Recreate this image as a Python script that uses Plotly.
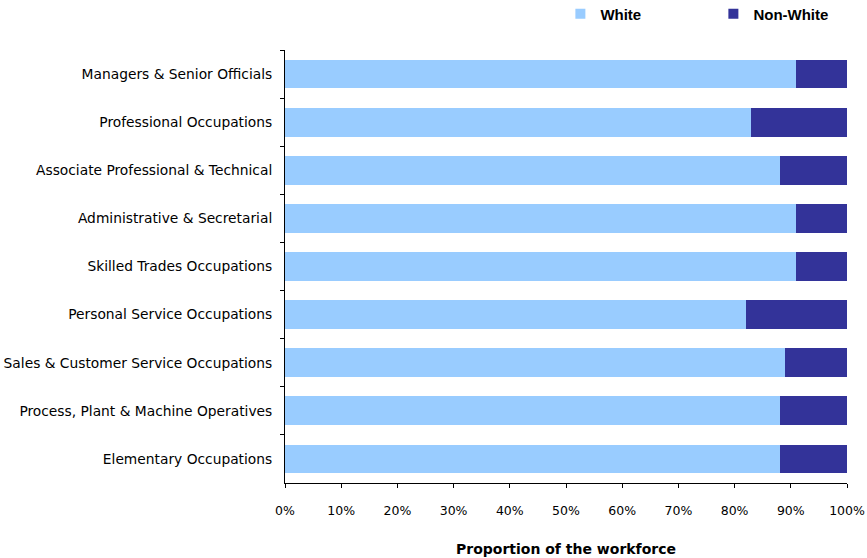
import plotly.graph_objects as go

categories = [
    "Managers & Senior Officials",
    "Professional Occupations",
    "Associate Professional & Technical",
    "Administrative & Secretarial",
    "Skilled Trades Occupations",
    "Personal Service Occupations",
    "Sales & Customer Service Occupations",
    "Process, Plant & Machine Operatives",
    "Elementary Occupations",
]
white = [91, 83, 88, 91, 91, 82, 89, 88, 88]
non_white = [9, 17, 12, 9, 9, 18, 11, 12, 12]
x_ticks = [0, 10, 20, 30, 40, 50, 60, 70, 80, 90, 100]
x_tick_labels = [f"{v}%" for v in x_ticks]

C_WHITE = "#99CCFF"
C_NON = "#333399"

fig = go.Figure()
fig.add_trace(go.Bar(y=categories, x=white, name="White", orientation="h",
                     marker=dict(color=C_WHITE, line=dict(width=0)), width=0.6,
                     showlegend=False))
fig.add_trace(go.Bar(y=categories, x=non_white, name="Non-White", orientation="h",
                     marker=dict(color=C_NON, line=dict(width=0)), width=0.6,
                     showlegend=False))
# legend entries
fig.add_trace(go.Scatter(x=[None], y=[None], mode="markers", name="<b>White</b>",
                         marker=dict(symbol="square", size=10, color=C_WHITE)))
fig.add_trace(go.Scatter(x=[None], y=[None], mode="markers", name="<b>Non-White</b>",
                         marker=dict(symbol="square", size=10, color=C_NON)))

fig.update_layout(
    barmode="stack",
    width=867, height=558,
    margin=dict(l=285, r=20, t=50, b=75, autoexpand=False),
    plot_bgcolor="white", paper_bgcolor="white",
    font=dict(family="DejaVu Sans", size=12, color="#000000"),
    showlegend=True,
    legend=dict(orientation="h", x=0.49, xanchor="left", y=1.083, yanchor="middle",
                font=dict(family="Liberation Sans", size=15, color="#000000"),
                traceorder="normal", itemwidth=30, entrywidth=108,
                bgcolor="rgba(0,0,0,0)", borderwidth=0),
)
fig.update_xaxes(range=[0, 100], tickvals=x_ticks, ticktext=x_tick_labels,
                 showgrid=False, zeroline=False, showline=True, linecolor="#000000",
                 linewidth=1, ticks="outside", ticklen=4, tickcolor="#000000",
                 ticklabelstandoff=12,
                 tickfont=dict(family="DejaVu Sans", size=12.5),
                 title=dict(text="<b>Proportion of the workforce</b>", standoff=27,
                            font=dict(family="DejaVu Sans", size=14)))
fig.update_yaxes(autorange="reversed", showgrid=False, showline=True, linecolor="#000000",
                 linewidth=1, ticks="outside", ticklen=4, tickcolor="#000000",
                 tickson="boundaries", ticklabelstandoff=9,
                 tickfont=dict(family="DejaVu Sans", size=13.8))

fig.write_html("out.html", config={"displayModeBar": False},
               post_script="document.body.style.margin='0';document.body.style.overflow='hidden';")
